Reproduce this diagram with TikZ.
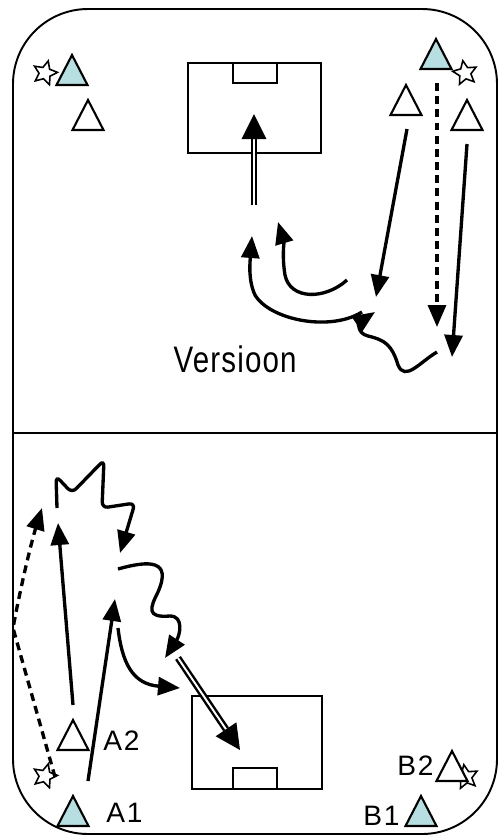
\documentclass[tikz,border=0pt]{standalone}
\usepackage{fontspec}
\setmainfont{Liberation Sans}
\newfontfamily\lblfont[LetterSpace=6]{Liberation Sans}
\newfontfamily\verfont[LetterSpace=4]{Liberation Sans}
\usetikzlibrary{arrows.meta,shapes.geometric,calc}
\definecolor{cyanfill}{RGB}{183,222,224}
\begin{document}
\begin{tikzpicture}[x=0.02cm,y=-0.02cm,
  frame/.style={line width=1.1pt},
  goalbox/.style={line width=1.2pt},
  mv/.style={line width=1.9pt,-{Triangle[length=0.44cm,width=0.36cm]}},
  passline/.style={mv,dash pattern=on 4.5pt off 3pt},
  shotline/.style={double,double distance=1.1pt,line width=1.4pt},
  starmark/.style={star,star points=5,star point ratio=2.1,draw,line width=0.9pt,minimum size=0.5cm,inner sep=0pt,fill=white},
  lbl/.style={font=\lblfont\fontsize{16}{18}\selectfont,inner sep=0pt},
  tri/.pic={\draw[pic actions,line width=1.2pt] (0,-15) -- (15.5,15) -- (-15.5,15) -- cycle;}
]
\useasboundingbox (0,0) rectangle (499,836);
% field
\draw[frame,rounded corners=1.5cm] (13,9) rectangle (497,834);
\draw[frame] (13,433) -- (497,433);
% goals
\draw[goalbox] (188,63) rectangle (321,153);
\draw[goalbox] (233,63) rectangle (277,83);
\draw[goalbox] (192,696) rectangle (322,789);
\draw[goalbox] (233,768) rectangle (277,789);

% players top
\node[starmark,rotate=-15] (st1) at (45,73) {};
\pic[fill=cyanfill] at (72,70) {tri};
\pic[fill=white] at (88,115) {tri};
\pic[fill=cyanfill] at (436,54) {tri};
\node[starmark,rotate=10] (st2) at (465,73) {};
\pic[fill=white] at (406,100) {tri};
\pic[fill=white] at (467,115) {tri};

% players bottom
\pic[fill=white] at (73,735) {tri};
\pic[fill=cyanfill] at (73,811) {tri};
\node[starmark,rotate=-15] (st3) at (45,776) {};
\node[starmark,rotate=10] (st4) at (466,777) {};
\pic[fill=white] at (452,766) {tri};
\pic[fill=cyanfill] at (421,811) {tri};

% labels
\node[lbl,anchor=base west] (la2) at (103,750) {A2};
\node[lbl,anchor=base west] (la1) at (106,822) {A1};
\node[lbl,anchor=base west] (lb2) at (397,775) {B2};
\node[lbl,anchor=base west] (lb1) at (363,825) {B1};
\node[inner sep=0pt,anchor=base east] (ver) at (297,372) {\scalebox{0.8}[1]{\verfont\fontsize{21}{24}\selectfont Versioon}};

% top arrows
\coordinate (t1s) at (407,129); \coordinate (t1e) at (376,297);
\coordinate (t2s) at (437,83);  \coordinate (t2e) at (437,327);
\coordinate (t3s) at (467,144); \coordinate (t3e) at (452,357);
\draw[mv] (t1s) -- (t1e);
\draw[passline] (t2s) -- (t2e);
\draw[mv] (t3s) -- (t3e);
\coordinate (a1s) at (437,352); \coordinate (a1e) at (375,312);
\draw[mv] (a1s) .. controls (420,362) and (405,382) .. (398,365) .. controls (392,345) and (385,340) .. (368,336) .. controls (356,333) and (360,322) .. (a1e);
\coordinate (b1s) at (362,312); \coordinate (b1e) at (252,236);
\draw[mv] (b1s) .. controls (330,332) and (270,320) .. (255,295) .. controls (248,280) and (250,262) .. (b1e);
\coordinate (c1s) at (347,280); \coordinate (c1e) at (278,222);
\draw[mv] (c1s) .. controls (325,300) and (290,300) .. (285,275) .. controls (282,257) and (284,242) .. (c1e);
% top shot
\coordinate (sh1s) at (254,205); \coordinate (sh1e) at (254,114);
\coordinate (sh1b) at ($(sh1e)!0.5cm!(sh1s)$);
\draw[shotline] (sh1s) -- (sh1b);
\fill (sh1e) -- ($(sh1b)!0.25cm!90:(sh1e)$) -- ($(sh1b)!0.25cm!-90:(sh1e)$) -- cycle;

% bottom arrows
\coordinate (u1s) at (73,705); \coordinate (u1e) at (58,523);
\coordinate (u2s) at (88,781); \coordinate (u2e) at (115,599);
\draw[mv] (u1s) -- (u1e);
\draw[mv] (u2s) -- (u2e);
\coordinate (p1s) at (55,777); \coordinate (p1m) at (13,628); \coordinate (p1e) at (42,508);
\draw[passline] (p1s) -- (p1m) .. controls (22,580) and (32,540) .. (p1e);
\coordinate (d1s) at (57,508); \coordinate (d1e) at (120,553);
\draw[mv,rounded corners=0.12cm] (d1s) -- (56,476) -- (72,493) -- (104,460) -- (102,508) -- (135,503) -- (d1e);
\coordinate (e1s) at (118,569); \coordinate (e1e) at (165,658);
\draw[mv] (e1s) .. controls (150,560) and (172,560) .. (158,592) .. controls (150,608) and (146,618) .. (170,616) .. controls (184,616) and (180,635) .. (e1e);
\coordinate (f1s) at (118,628); \coordinate (f1e) at (180,688);
\draw[mv] (f1s) .. controls (122,662) and (132,684) .. (f1e);
% bottom shot
\coordinate (sh2s) at (178,658); \coordinate (sh2e) at (240,750);
\coordinate (sh2b) at ($(sh2e)!0.5cm!(sh2s)$);
\draw[shotline] (sh2s) -- (sh2b);
\fill (sh2e) -- ($(sh2b)!0.25cm!90:(sh2e)$) -- ($(sh2b)!0.25cm!-90:(sh2e)$) -- cycle;
\end{tikzpicture}
\end{document}
